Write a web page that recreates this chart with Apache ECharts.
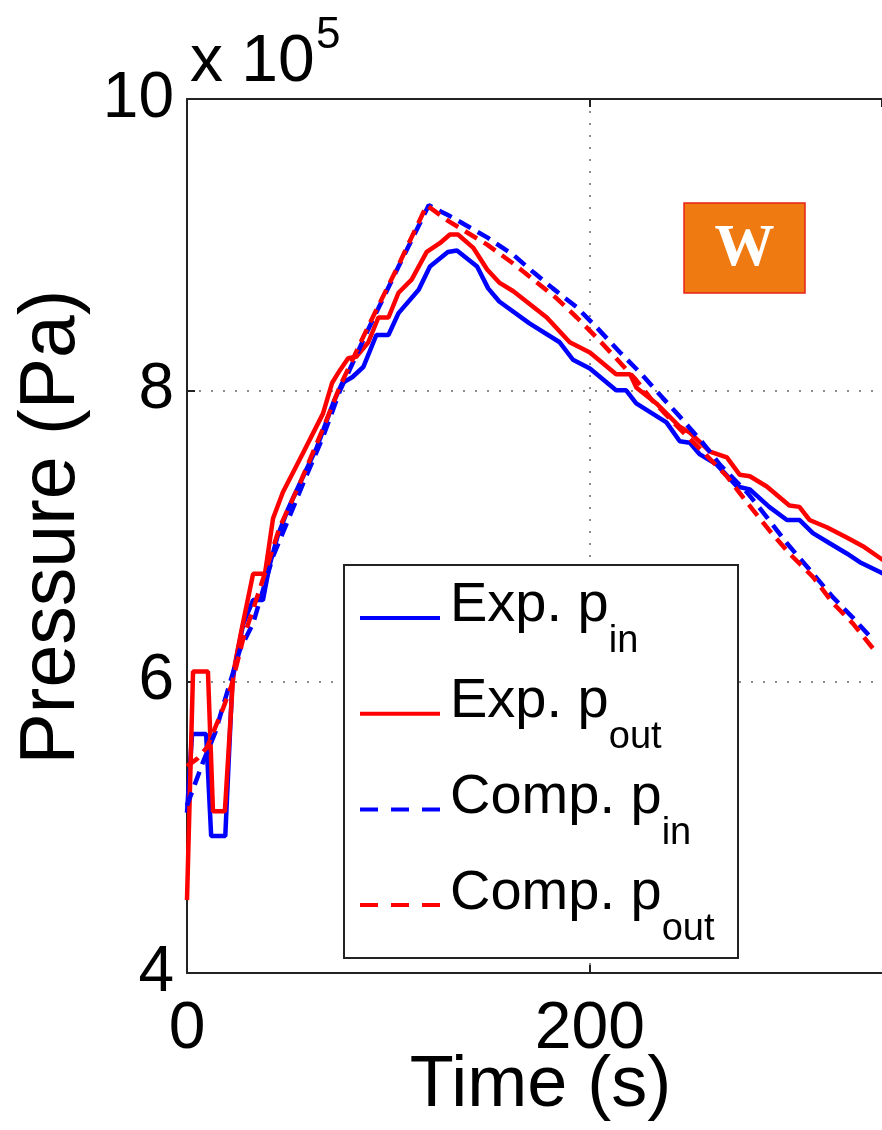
<!DOCTYPE html>
<html>
<head>
<meta charset="utf-8">
<title>Pressure vs time</title>
<script src="https://cdn.jsdelivr.net/npm/echarts@6/dist/echarts.min.js"></script>
<style>
  html, body { margin: 0; padding: 0; background: #fff; }
  #chart { width: 882px; height: 1130px; }
</style>
</head>
<body>
<div id="chart"></div>
<script>
// time in s, pressure in units of 1e5 Pa
const expInTime = [0, 2.5, 9.5, 12, 19, 22.5, 25, 28, 32.8, 37.7, 41, 45, 50, 56, 64.5, 72.5, 77, 82, 87.5, 94, 100, 105, 115, 120.6, 129.5, 134, 144, 149.5, 155, 170, 185, 191.6, 200, 213, 218, 223, 238, 244.6, 249.6, 254.6, 263, 273, 279.4, 289, 297.8, 304, 310.7, 319, 327.5, 334, 346];
const expInVal = [5.1, 5.64, 5.64, 4.94, 4.94, 6.0, 6.2, 6.4, 6.56, 6.56, 6.8, 7.0, 7.18, 7.36, 7.61, 7.91, 8.05, 8.09, 8.16, 8.38, 8.38, 8.53, 8.69, 8.85, 8.95, 8.96, 8.85, 8.70, 8.61, 8.46, 8.33, 8.21, 8.15, 8.0, 8.0, 7.91, 7.78, 7.65, 7.64, 7.56, 7.49, 7.34, 7.32, 7.20, 7.11, 7.11, 7.02, 6.95, 6.88, 6.82, 6.74];

const expOutTime = [0, 3, 10.4, 12.9, 18.8, 23, 27, 32.8, 38.7, 42.7, 47.6, 57.6, 67.5, 72, 76, 80, 84, 90, 95, 100, 105, 111.5, 119, 125.5, 130.5, 134.5, 142, 149, 155, 162, 178.6, 190, 200, 213, 220, 223, 233, 244.6, 249.6, 259.6, 268, 274.4, 279.4, 287.8, 299, 304, 309, 317.6, 327.5, 335.5, 346];
const expOutVal = [4.5, 6.07, 6.07, 5.11, 5.11, 6.06, 6.35, 6.74, 6.74, 7.12, 7.30, 7.57, 7.84, 8.05, 8.14, 8.22, 8.23, 8.33, 8.50, 8.50, 8.67, 8.76, 8.95, 9.01, 9.07, 9.07, 8.98, 8.83, 8.74, 8.68, 8.50, 8.33, 8.26, 8.11, 8.11, 8.02, 7.91, 7.75, 7.71, 7.58, 7.54, 7.42, 7.41, 7.34, 7.21, 7.20, 7.11, 7.06, 6.99, 6.93, 6.83];

const compInTime = [0, 4, 8, 14, 20, 26.3, 32.8, 42.7, 49.6, 57.6, 67.5, 76, 90, 105, 120, 130, 149, 162, 172, 181.6, 193.5, 203.5, 215, 225, 236, 244.6, 256, 264.5, 278, 287.8, 297.8, 309, 320.6, 330.5, 341];
const compInVal = [5.15, 5.3, 5.45, 5.65, 5.93, 6.22, 6.40, 6.86, 7.09, 7.36, 7.68, 8.0, 8.42, 8.85, 9.27, 9.20, 9.05, 8.93, 8.81, 8.70, 8.57, 8.43, 8.26, 8.12, 7.95, 7.82, 7.64, 7.49, 7.30, 7.13, 6.95, 6.77, 6.58, 6.44, 6.28];

const compOutTime = [0, 5, 10, 18, 22, 28, 36, 46, 56, 67, 76, 90, 105, 119, 130, 149, 162, 172, 183.6, 193.5, 203.5, 213, 223, 231, 245, 256, 268, 278, 289, 299, 310.7, 320.6, 330.5, 341];
const compOutVal = [5.42, 5.47, 5.55, 5.82, 5.97, 6.30, 6.63, 7.06, 7.36, 7.72, 8.03, 8.44, 8.86, 9.27, 9.16, 9.00, 8.87, 8.76, 8.63, 8.50, 8.36, 8.22, 8.07, 7.93, 7.73, 7.58, 7.41, 7.23, 7.04, 6.88, 6.72, 6.54, 6.40, 6.22];

const seriesNames = ['Exp. p_in', 'Exp. p_out', 'Comp. p_in', 'Comp. p_out'];
const legendLabels = ['{m|Exp. p}{s|in}', '{m|Exp. p}{s|out}', '{m|Comp. p}{s|in}', '{m|Comp. p}{s|out}'];

const FONT = 'Liberation Sans';
const BLUE = '#0000ff';
const RED = '#ff0000';
const DASH = [14, 8];
// legend samples: an 80x4 bar, solid or cut into three dashes
const SOLID_ICON = 'path://M0,0h80v4h-80z';
const DASH_ICON = 'path://M0,0h18v4h-18z M31,0h18v4h-18z M62,0h18v4h-18z';

const pairs = (t, v) => t.map((x, i) => [x, v[i]]);

const chart = echarts.init(document.getElementById('chart'));

const lineSeries = (name, t, v, color, dashed) => ({
  name: name,
  type: 'line',
  data: pairs(t, v),
  showSymbol: false,
  symbol: 'none',
  lineStyle: {color: color, width: 4.5, type: dashed ? DASH : 'solid'},
  itemStyle: {color: color}
});

const axisLine = {show: true, lineStyle: {color: '#222', width: 2}};
const axisTick = {show: true, inside: true, length: 8, lineStyle: {color: '#222', width: 2}};
const gridLine = {show: true, showMinLine: false, showMaxLine: false, lineStyle: {color: '#666', width: 1.5, type: [2, 10]}};

chart.setOption({
  animation: false,
  backgroundColor: '#fff',
  grid: {left: 187, top: 99, right: 0, bottom: 157, outerBoundsMode: 'none', containLabel: false},
  xAxis: [{
    type: 'value', min: 0, max: 345, interval: 200,
    name: 'Time (s)', nameLocation: 'middle', nameGap: 77, nameMoveOverlap: false,
    nameTextStyle: {fontFamily: FONT, fontSize: 72, color: '#000', padding: [0, 0, 0, 12]},
    axisLine: axisLine,
    axisTick: axisTick,
    axisLabel: {fontFamily: FONT, fontSize: 66, color: '#000', margin: 24, showMaxLabel: false},
    splitLine: gridLine
  }, {
    type: 'value', min: 0, max: 345, interval: 200, position: 'top',
    axisLine: axisLine,
    axisTick: axisTick,
    axisLabel: {show: false},
    splitLine: {show: false}
  }],
  yAxis: {
    type: 'value', min: 4, max: 10, interval: 2,
    name: 'Pressure (Pa)', nameLocation: 'middle', nameGap: 96, nameMoveOverlap: false,
    nameTextStyle: {fontFamily: FONT, fontSize: 77, color: '#000', padding: [0, 0, 0, 18]},
    axisLine: axisLine,
    axisTick: axisTick,
    axisLabel: {fontFamily: FONT, fontSize: 64, color: '#000', margin: 13},
    splitLine: gridLine
  },
  legend: {
    orient: 'vertical', left: 360, top: 578, padding: 0,
    itemGap: 12.7, itemWidth: 80, itemHeight: 4,
    formatter: name => legendLabels[seriesNames.indexOf(name)],
    textStyle: {
      fontFamily: FONT, fontSize: 56, color: '#000',
      rich: {
        m: {fontFamily: FONT, fontSize: 56, color: '#000', verticalAlign: 'top', padding: [3, 0, 0, 5]},
        s: {fontFamily: FONT, fontSize: 38, color: '#000', verticalAlign: 'top', padding: [48, 0, 0, 0]}
      }
    },
    data: [
      {name: seriesNames[0], icon: SOLID_ICON},
      {name: seriesNames[1], icon: SOLID_ICON},
      {name: seriesNames[2], icon: DASH_ICON},
      {name: seriesNames[3], icon: DASH_ICON}
    ]
  },
  graphic: [
    {type: 'rect', z: 3, shape: {x: 344, y: 565, width: 394, height: 393},
     style: {fill: '#fff', stroke: '#222', lineWidth: 2}},
    {type: 'rect', z: 3, shape: {x: 684, y: 203, width: 121, height: 90},
     style: {fill: '#f07a12', stroke: '#e8231a', lineWidth: 1.5}},
    {type: 'text', z: 4, x: 744.5, y: 249,
     style: {text: 'W', fill: '#fff', font: 'bold 60px "Liberation Serif"', align: 'center', verticalAlign: 'middle'}},
    {type: 'text', z: 4, x: 190, y: 30,
     style: {text: 'x 10', fill: '#000', font: '66px "Liberation Sans"', align: 'left', verticalAlign: 'top'}},
    {type: 'text', z: 4, x: 316, y: 14,
     style: {text: '5', fill: '#000', font: '44px "Liberation Sans"', align: 'left', verticalAlign: 'top'}}
  ],
  series: [
    lineSeries(seriesNames[0], expInTime, expInVal, BLUE, false),
    lineSeries(seriesNames[1], expOutTime, expOutVal, RED, false),
    lineSeries(seriesNames[2], compInTime, compInVal, BLUE, true),
    lineSeries(seriesNames[3], compOutTime, compOutVal, RED, true)
  ]
});
</script>
</body>
</html>
